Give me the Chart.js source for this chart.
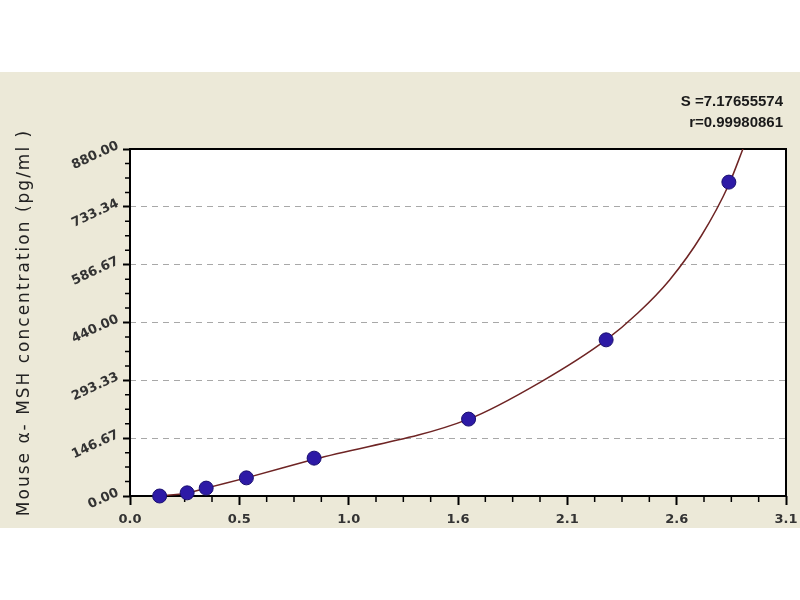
<!DOCTYPE html>
<html lang="en">
<head>
<meta charset="UTF-8">
<title>Mouse α-MSH standard curve</title>
<script src="https://cdn.jsdelivr.net/npm/chart.js"></script>
<style>
  html, body { margin: 0; padding: 0; background: #fff; }
  #wrap { width: 800px; height: 600px; }
</style>
</head>
<body>
<div id="wrap"><canvas id="curveChart" width="800" height="600"></canvas></div>
<script>
// standards: OD reading vs concentration (pg/ml)
const odValues   = [0.14, 0.27, 0.36, 0.55, 0.87, 1.60, 2.25, 2.83];
const concValues = [0, 8, 20, 46, 96, 195, 396, 796];

// fitted curve
const fitOd   = [0.13, 0.27, 0.36, 0.55, 0.87, 1.60, 1.94, 2.25, 2.40, 2.55, 2.70, 2.83, 2.90];
const fitConc = [0, 7, 20, 46, 93, 195, 289, 396, 464, 548, 660, 790, 885];

const xTickLabels = ['0.0', '0.5', '1.0', '1.6', '2.1', '2.6', '3.1'];
const yTickLabels = ['0.00', '146.67', '293.33', '440.00', '586.67', '733.34', '880.00'];
const xMax = 3.1;
const yMax = 880;
const fitStats = ['S =7.17655574', 'r=0.99980861'];
const yTitle = 'Mouse α- MSH concentration (pg/ml )';

const tickFont = { family: '"DejaVu Sans", Arial, sans-serif', size: 13, weight: 'bold' };

// beige panel, white plot box, minor ticks, frame, axis title and fit stats
const backdrop = {
    id: 'backdrop',
    beforeDraw(chart) {
        const { ctx, width, height, chartArea: a } = chart;
        ctx.save();
        ctx.fillStyle = '#ffffff';
        ctx.fillRect(0, 0, width, height);
        ctx.fillStyle = '#ece9d8';
        ctx.fillRect(0, 72, width, 456);
        ctx.fillStyle = '#ffffff';
        ctx.fillRect(a.left, a.top, a.right - a.left, a.bottom - a.top);
        ctx.restore();
    },
    beforeDatasetsDraw(chart) {
        const { ctx, chartArea: a, scales: { x, y } } = chart;
        ctx.save();
        ctx.strokeStyle = '#000';
        ctx.lineWidth = 1.5;
        ctx.beginPath();
        for (let i = 1; i < 24; i++) {
            if (i % 4 === 0) continue;
            const px = x.getPixelForValue(xMax * i / 24);
            ctx.moveTo(px, a.bottom);
            ctx.lineTo(px, a.bottom + 6);
            const py = y.getPixelForValue(yMax * i / 24);
            ctx.moveTo(a.left, py);
            ctx.lineTo(a.left - 5, py);
        }
        ctx.stroke();
        ctx.lineWidth = 2;
        ctx.strokeRect(a.left, a.top, a.right - a.left, a.bottom - a.top);

        // fit statistics, top right
        ctx.fillStyle = '#1a1a1a';
        ctx.font = 'bold 15px "Liberation Sans", Arial, sans-serif';
        ctx.textAlign = 'right';
        ctx.textBaseline = 'middle';
        ctx.fillText(fitStats[0], 783, 102);
        ctx.fillText(fitStats[1], 783, 123);

        // rotated y axis title, letter-spaced
        ctx.translate(25, (a.top + a.bottom) / 2);
        ctx.rotate(-Math.PI / 2);
        ctx.font = '17px "DejaVu Sans", Arial, sans-serif';
        ctx.letterSpacing = '2px';
        ctx.textAlign = 'center';
        ctx.fillStyle = '#222';
        ctx.fillText(yTitle, 0, 0);
        ctx.restore();
    }
};

const ctx = document.getElementById('curveChart').getContext('2d');
new Chart(ctx, {
    type: 'scatter',
    data: {
        datasets: [
            {
                label: 'Standards',
                data: odValues.map((v, i) => ({ x: v, y: concValues[i] })),
                pointRadius: 7,
                pointHoverRadius: 7,
                backgroundColor: '#2d1aa6',
                borderColor: '#1a0f70',
                borderWidth: 1,
                clip: false,
                order: 0
            },
            {
                label: 'Fit',
                data: fitOd.map((v, i) => ({ x: v, y: fitConc[i] })),
                showLine: true,
                pointRadius: 0,
                borderColor: '#6e2424',
                borderWidth: 1.5,
                cubicInterpolationMode: 'monotone',
                order: 1
            }
        ]
    },
    plugins: [backdrop],
    options: {
        responsive: false,
        animation: false,
        layout: { padding: { top: 149, right: 14, left: 0, bottom: 0 } },
        plugins: {
            legend: { display: false },
            tooltip: { enabled: false }
        },
        scales: {
            x: {
                type: 'linear',
                min: 0,
                max: xMax,
                afterBuildTicks: s => { s.ticks = xTickLabels.map((t, i) => ({ value: xMax * i / 6 })); },
                afterFit: s => { s.height = 104; s.paddingLeft = 0; s.paddingRight = 0; },
                ticks: {
                    callback: (v, i) => xTickLabels[i],
                    color: '#333',
                    font: tickFont,
                    padding: 7,
                    maxRotation: 0,
                    autoSkip: false
                },
                grid: {
                    drawOnChartArea: false,
                    tickLength: 9,
                    tickColor: '#000',
                    tickWidth: 2
                },
                border: { display: false }
            },
            y: {
                type: 'linear',
                min: 0,
                max: yMax,
                afterBuildTicks: s => { s.ticks = yTickLabels.map((t, i) => ({ value: yMax * i / 6 })); },
                afterFit: s => { s.width = 130; s.paddingTop = 0; s.paddingBottom = 0; },
                ticks: {
                    callback: (v, i) => yTickLabels[i],
                    color: '#333',
                    font: tickFont,
                    padding: 5,
                    minRotation: 25,
                    maxRotation: 25,
                    labelOffset: -4,
                    autoSkip: false
                },
                grid: {
                    color: c => (c.index === 0 || c.index === 6) ? 'rgba(0,0,0,0)' : '#a8a8a8',
                    lineWidth: 1,
                    tickLength: 7,
                    tickColor: '#000',
                    tickWidth: 2
                },
                border: { display: false, dash: [6, 5] }
            }
        }
    }
});
</script>
</body>
</html>
